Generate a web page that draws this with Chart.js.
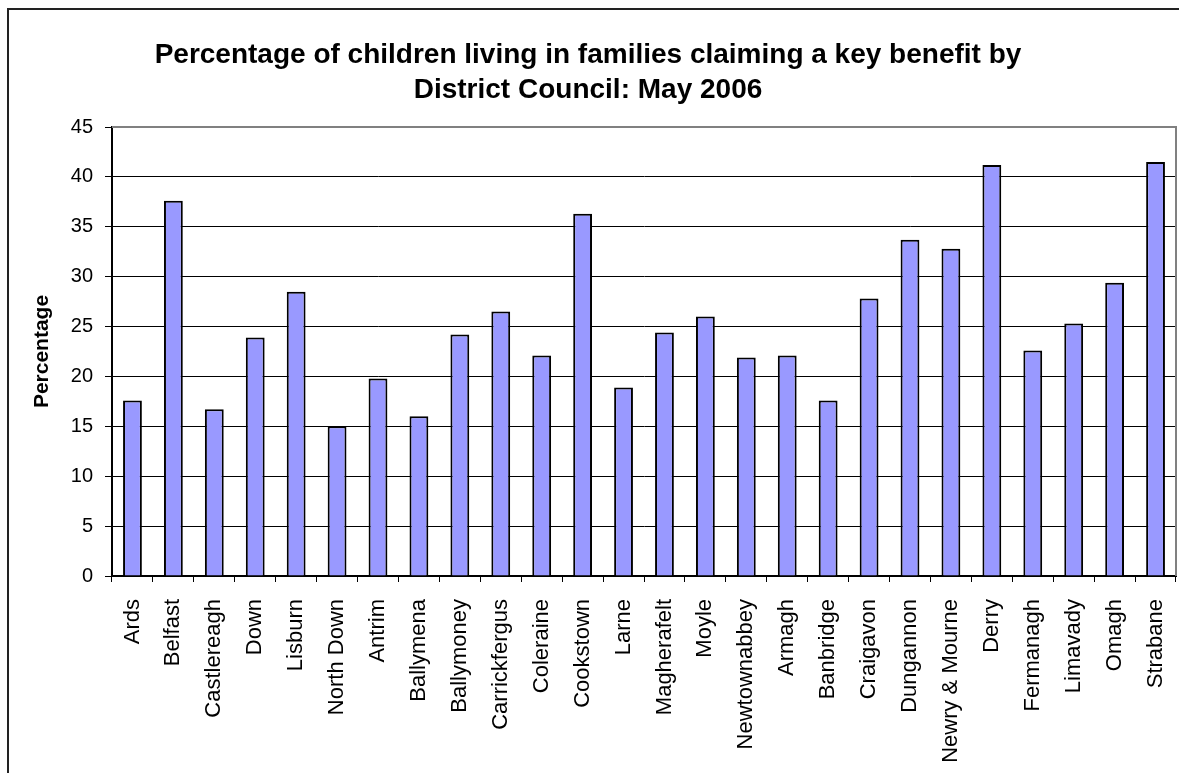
<!DOCTYPE html>
<html>
<head>
<meta charset="utf-8">
<script src="https://cdn.jsdelivr.net/npm/chart.js@4"></script>
<style>
  html, body { margin: 0; padding: 0; background: #fff; overflow: hidden; }
  #wrap { position: relative; width: 1179px; height: 773px; }
  #frame { position: absolute; left: 7px; top: 8px; width: 1300px; height: 900px; border: 2px solid #222; box-sizing: border-box; pointer-events: none; }
  canvas { position: absolute; left: 0; top: 0; }
</style>
</head>
<body>
<div id="wrap">
  <canvas id="bars" width="1179" height="773"></canvas>
  <div id="frame"></div>
</div>
<script>
const councils = ['Ards', 'Belfast', 'Castlereagh', 'Down', 'Lisburn', 'North Down', 'Antrim',
  'Ballymena', 'Ballymoney', 'Carrickfergus', 'Coleraine', 'Cookstown', 'Larne', 'Magherafelt',
  'Moyle', 'Newtownabbey', 'Armagh', 'Banbridge', 'Craigavon', 'Dungannon', 'Newry & Mourne',
  'Derry', 'Fermanagh', 'Limavady', 'Omagh', 'Strabane']
const percentages = [17.6, 37.6, 16.7, 23.9, 28.5, 15.0, 19.8, 16.0, 24.2, 26.5, 22.1, 36.3, 18.9,
  24.4, 26.0, 21.9, 22.1, 17.6, 27.8, 33.7, 32.8, 41.2, 22.6, 25.3, 29.4, 41.5]
const yTicks = [0, 5, 10, 15, 20, 25, 30, 35, 40, 45]

const font = "'Liberation Sans', Arial, sans-serif"

// grey box on top and right of plot area, like the original
const plotBorder = {
  id: 'plotBorder',
  afterDraw(chart) {
    const { ctx, chartArea: a } = chart
    ctx.save()
    ctx.strokeStyle = '#808080'
    ctx.lineWidth = 2
    ctx.beginPath()
    ctx.moveTo(a.left, a.top)
    ctx.lineTo(a.right, a.top)
    ctx.lineTo(a.right, a.bottom)
    ctx.stroke()
    ctx.restore()
  },
}

const barConfig = {
  type: 'bar',
  data: {
    labels: councils,
    datasets: [
      {
        label: 'Percentage',
        backgroundColor: '#9999ff',
        borderColor: '#000000',
        borderWidth: 2,
        barPercentage: 0.46,
        categoryPercentage: 1,
        data: percentages,
      },
    ],
  },
  options: {
    responsive: false,
    animation: false,
    layout: { padding: { left: 0, right: 3, top: 0, bottom: 0 } },
    plugins: {
      legend: { display: false },
      tooltip: { enabled: false },
      title: {
        display: true,
        text: ['Percentage of children living in families claiming a key benefit by', 'District Council: May 2006'],
        color: '#000',
        font: { family: font, size: 28, weight: 'bold', lineHeight: 1.25 },
        padding: { top: 38, bottom: 19 },
      },
    },
    scales: {
      x: {
        grid: { offset: true, drawOnChartArea: false, drawTicks: true, tickLength: 6, color: '#000', lineWidth: 1 },
        border: { color: '#000', width: 2 },
        ticks: { color: '#000', font: { family: font, size: 22 }, minRotation: 90, maxRotation: 90, autoSkip: false, padding: 17 },
        afterFit(scale) {
          scale.height = 197
          scale.paddingLeft = 0
          scale.paddingRight = 0
        },
      },
      y: {
        min: 0,
        max: 45,
        afterBuildTicks(scale) { scale.ticks = yTicks.map(v => ({ value: v })) },
        grid: { color: '#000', lineWidth: 1, tickLength: 7 },
        border: { color: '#000', width: 2 },
        ticks: { color: '#000', font: { family: font, size: 20 }, padding: 12 },
        title: {
          display: true,
          text: 'Percentage',
          color: '#000',
          font: { family: font, size: 21, weight: 'bold' },
          padding: { top: 30, bottom: 0 },
        },
        afterFit(scale) { scale.width = 112 },
      },
    },
  },
  plugins: [plotBorder],
}

const barsCtx = document.getElementById('bars')
window.myBar = new Chart(barsCtx, barConfig)
</script>
</body>
</html>
